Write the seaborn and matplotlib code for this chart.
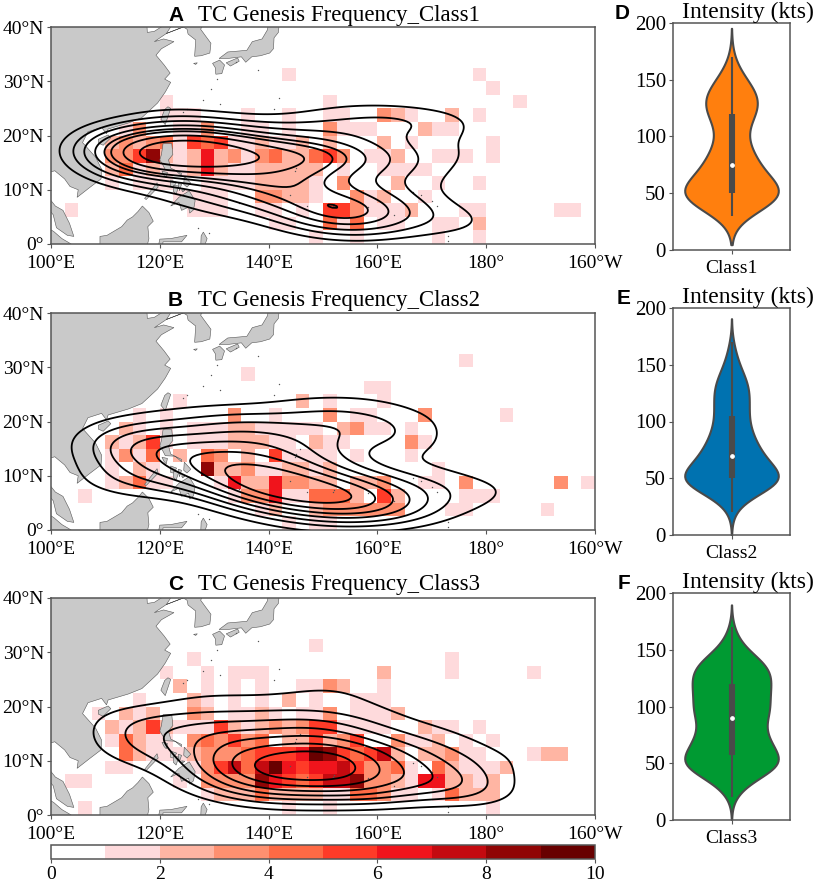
import numpy as np
import matplotlib
matplotlib.use('Agg')
import matplotlib.pyplot as plt
from matplotlib.colors import ListedColormap, BoundaryNorm
from matplotlib.cm import ScalarMappable
from matplotlib.patches import Polygon
import seaborn as sns

sns.set_style('white')
plt.rcParams['font.family'] = ['Liberation Serif', 'DejaVu Serif']
plt.rcParams['text.color'] = 'black'

# genesis counts on a 2.5 deg grid, {row: {column: count}}, row 0 at the equator, column 0 at 100E
class1_rows = {
    12: {17: 1, 31: 1},
    11: {32: 1},
    10: {8: 1, 20: 1, 34: 1},
    9: {8: 1, 9: 1, 10: 1, 14: 1, 17: 1, 20: 1, 21: 1, 24: 3, 25: 2, 26: 1, 29: 2, 31: 1},
    8: {5: 1, 6: 3, 9: 1, 10: 1, 11: 3, 14: 1, 15: 1, 17: 1, 20: 3, 21: 1, 22: 1, 23: 1, 27: 2, 28: 1, 29: 1},
    7: {4: 2, 5: 3, 6: 2, 7: 3, 8: 4, 9: 1, 10: 5, 11: 4, 12: 5, 13: 1, 14: 1, 15: 2, 16: 1, 17: 1, 18: 2, 20: 2, 24: 2, 26: 1, 32: 1},
    6: {4: 3, 5: 3, 6: 5, 7: 8, 8: 2, 9: 1, 10: 2, 11: 6, 12: 2, 13: 3, 14: 1, 15: 3, 16: 4, 17: 2, 18: 2, 19: 4, 20: 5, 21: 3, 23: 1, 24: 1, 25: 2, 28: 1, 29: 1, 30: 1, 32: 1},
    5: {4: 2, 5: 4, 6: 1, 7: 2, 8: 1, 9: 1, 10: 2, 11: 6, 12: 2, 13: 1, 14: 1, 15: 2, 16: 2, 17: 2, 18: 2, 19: 2, 21: 1, 24: 1, 25: 1, 26: 1, 27: 1},
    4: {4: 1, 6: 1, 7: 1, 8: 1, 11: 1, 12: 1, 13: 1, 14: 1, 15: 2, 16: 2, 17: 2, 18: 2, 19: 1, 21: 3, 25: 2, 28: 1, 31: 1},
    3: {9: 1, 10: 1, 11: 1, 12: 1, 15: 3, 16: 3, 17: 2, 18: 2, 19: 1, 22: 3, 23: 1, 24: 2, 27: 1},
    2: {1: 1, 10: 1, 11: 1, 12: 1, 15: 1, 16: 1, 18: 1, 20: 5, 21: 5, 22: 3, 23: 1, 24: 1, 25: 1, 26: 2, 30: 1, 31: 1, 37: 1, 38: 1},
    1: {16: 1, 17: 1, 20: 4, 21: 1, 22: 4, 24: 1, 25: 1, 28: 1, 29: 1, 31: 2},
    0: {19: 1, 22: 1, 28: 1, 31: 1},
}
class2_rows = {
    12: {30: 1},
    11: {14: 1},
    10: {23: 1, 24: 1},
    9: {9: 1, 18: 2, 20: 1, 24: 1},
    8: {6: 1, 8: 1, 13: 3, 16: 1, 20: 3, 22: 1, 23: 1, 27: 3, 33: 1},
    7: {5: 2, 6: 1, 8: 1, 10: 1, 11: 1, 12: 1, 13: 2, 14: 2, 15: 1, 16: 1, 17: 1, 18: 1, 19: 1, 21: 2, 22: 3, 23: 1, 24: 1, 26: 1},
    6: {4: 2, 5: 1, 6: 2, 7: 5, 8: 1, 10: 1, 11: 1, 12: 1, 13: 2, 14: 2, 15: 2, 16: 1, 17: 1, 19: 2, 20: 1, 21: 1, 26: 3, 27: 1},
    5: {4: 1, 5: 3, 6: 1, 7: 4, 9: 2, 11: 4, 12: 3, 14: 2, 16: 5, 17: 1, 18: 1, 19: 1, 20: 1, 22: 1, 26: 1},
    4: {4: 1, 6: 2, 7: 1, 11: 8, 12: 2, 13: 2, 14: 3, 15: 1, 16: 1, 17: 2, 18: 2, 19: 1, 20: 2, 28: 1},
    3: {4: 1, 5: 2, 6: 4, 7: 1, 8: 1, 12: 1, 13: 6, 14: 2, 15: 2, 16: 6, 17: 3, 18: 3, 19: 2, 20: 2, 22: 2, 23: 2, 24: 3, 27: 1, 28: 1, 30: 3, 37: 3, 39: 1},
    2: {2: 1, 13: 1, 14: 3, 15: 3, 16: 6, 17: 1, 18: 1, 19: 4, 20: 4, 21: 4, 22: 2, 24: 5, 25: 2, 30: 1, 31: 1, 32: 1},
    1: {15: 1, 16: 2, 19: 2, 20: 3, 21: 3, 22: 3, 23: 3, 24: 3, 25: 3, 29: 1, 30: 1, 36: 1},
    0: {17: 1, 19: 1, 20: 1},
}
class3_rows = {
    12: {19: 1},
    11: {10: 1, 29: 1},
    10: {8: 1, 11: 1, 13: 1, 14: 1, 15: 1, 24: 2, 29: 1, 35: 1},
    9: {9: 2, 11: 1, 13: 1, 15: 1, 18: 1, 19: 1, 20: 3, 21: 2, 24: 1},
    8: {6: 1, 10: 2, 11: 1, 13: 1, 15: 1, 17: 2, 19: 1, 22: 1, 23: 1, 24: 1},
    7: {3: 1, 5: 2, 6: 1, 7: 2, 10: 3, 11: 2, 13: 1, 14: 1, 15: 2, 16: 1, 18: 1, 19: 1, 20: 3, 22: 1, 23: 1, 24: 1, 25: 2},
    6: {4: 2, 5: 1, 6: 2, 7: 5, 8: 2, 9: 1, 10: 1, 11: 1, 12: 5, 13: 2, 14: 1, 15: 2, 16: 3, 17: 2, 18: 3, 19: 5, 20: 5, 21: 1, 22: 1, 23: 1, 24: 1, 27: 2, 28: 1, 29: 1, 31: 1},
    5: {4: 1, 5: 4, 6: 2, 7: 1, 8: 1, 10: 3, 11: 4, 12: 3, 13: 5, 14: 3, 15: 4, 17: 2, 18: 2, 19: 5, 20: 2, 21: 3, 22: 5, 25: 3, 26: 1, 27: 1, 28: 2, 30: 1, 32: 1},
    4: {5: 4, 6: 2, 7: 1, 8: 1, 9: 1, 10: 2, 11: 3, 12: 3, 13: 3, 14: 4, 15: 5, 16: 5, 17: 5, 18: 6, 19: 9, 20: 8, 21: 5, 22: 4, 23: 5, 24: 7, 25: 2, 27: 2, 28: 2, 29: 3, 30: 1, 31: 1, 35: 1, 36: 2, 37: 2},
    3: {4: 1, 5: 1, 10: 1, 11: 3, 12: 5, 13: 7, 14: 4, 15: 7, 16: 9, 17: 6, 18: 5, 19: 6, 20: 6, 21: 7, 22: 5, 23: 3, 24: 3, 25: 4, 26: 1, 28: 4, 29: 2, 30: 1, 31: 1, 32: 1, 33: 2},
    2: {1: 1, 2: 1, 9: 1, 11: 3, 12: 3, 13: 3, 14: 3, 15: 8, 16: 6, 17: 5, 18: 4, 19: 5, 20: 7, 21: 7, 22: 8, 23: 3, 24: 3, 25: 2, 26: 1, 27: 6, 28: 6, 29: 2, 30: 2, 31: 1, 32: 2},
    1: {11: 1, 12: 2, 13: 2, 14: 2, 15: 4, 16: 2, 17: 2, 18: 2, 19: 2, 20: 1, 21: 1, 22: 4, 23: 4, 24: 3, 25: 1, 26: 1, 28: 1, 29: 4, 30: 2, 31: 2, 32: 2},
    0: {2: 1, 17: 1, 20: 1, 32: 1},
}

# intensity histograms read back from the violins, one count per 5 kt from 20 kt
intensity_bins = list(range(20, 175, 5))
class1_hist = [0, 0, 4, 7, 14, 20, 24, 18, 13, 11, 8, 10, 9, 7, 6, 5, 4, 4, 5, 6, 9, 10, 10, 10, 8, 7, 5, 3, 2, 1, 1]
class2_hist = [1, 2, 4, 8, 14, 22, 26, 20, 15, 14, 13, 11, 10, 9, 8, 7, 7, 6, 7, 7, 7, 7, 7, 7, 5, 4, 3, 2, 2, 1, 1]
class3_hist = [1, 2, 4, 6, 10, 14, 20, 14, 13, 13, 11, 11, 10, 8, 12, 12, 12, 11, 11, 12, 12, 12, 12, 12, 10, 7, 4, 3, 2, 1, 1]
violin_bw = [1.0, 0.9, 0.85]

class_names = ['Class1', 'Class2', 'Class3']
panel_letters = ['A', 'B', 'C']
violin_letters = ['D', 'E', 'F']
violin_colors = ['#ff7f0e', '#0072b0', '#009a32']
level_colors = ['#ffffff', '#fedadc', '#ffb5a3', '#ff9070', '#ff6a45',
                '#ff3b28', '#f0141c', '#c40a10', '#900505', '#680000']
lon_ticks = [100, 120, 140, 160, 180, 200]
lon_labels = ['100°E', '120°E', '140°E', '160°E', '180°', '160°W']
lat_ticks = [0, 10, 20, 30, 40]
lat_labels = ['0°', '10°N', '20°N', '30°N', '40°N']
kde_levels = [9, 8, 8]
kde_bw = [0.92, 1.0, 1.0]

# rough coastlines for the base map, lon/lat
land_polys = [
    [(99, 41), (117.6, 41), (117.7, 39), (119, 39.2), (121.5, 40.8), (122, 40), (121.2, 38.8), (124.3, 40), (124.3, 41), (125, 41),
     (124.3, 40), (121.2, 38.8), (119, 37.3), (120.7, 37.8), (122.6, 37.3), (120.3, 36), (119.3, 34.8), (120.8, 33),
     (121.9, 31.5), (120.9, 30.4), (122, 29.8), (121, 28), (119.6, 26), (118, 24.5), (116.7, 23.3),
     (114.2, 22.3), (110.5, 21.2), (110.2, 20.3), (109.3, 21.5), (106.8, 20.7), (105.8, 18.7), (108.2, 16),
     (109.3, 13.8), (109.2, 12), (107.1, 10.4), (104.8, 8.6), (105, 10), (103.5, 10.6), (102.5, 12),
     (100.7, 13.5), (100, 13.3), (99, 13)],
    [(99, 8.5), (100, 8), (100.8, 7), (102.2, 6.2), (103.4, 3.8), (104.2, 1.4), (103, 1.6), (101, 3), (100.4, 5.4), (99, 7)],
    [(99, 3.2), (100.5, 2.3), (102, 1), (103.7, 0), (103.7, -1), (99, -1)],
    [(109, -1), (109, 1.4), (110.3, 1.6), (113, 3.2), (114, 4.4), (115, 5), (116, 6), (116.8, 7), (118, 5.8),
     (118.8, 4.2), (117.8, 3.2), (118, 1), (117.5, -1)],
    [(119.6, -1), (120, 0.9), (122, 1), (125, 1.6), (124, 0.4), (120.6, 0.4), (120.4, -1)],
    [(127.5, -1), (127.6, 1.5), (128, 2.2), (128.7, 1), (128, -1)],
    [(117.2, 8.4), (119.5, 11.3), (119.7, 10.5), (117.5, 8.2)],
    [(122, 7), (123.5, 8.6), (125.4, 9.8), (126.5, 8), (126.2, 6.3), (125.5, 5.7), (125.3, 6.8), (124, 6.2), (123.5, 7.7)],
    [(120.6, 18.5), (122.2, 18.5), (122.4, 16.5), (121.6, 15.5), (122, 14), (124, 13), (124, 12.6), (122.8, 13.6),
     (121, 13.7), (120.6, 14.5), (120, 15.5), (120.3, 16.5)],
    [(124.5, 12.5), (125.7, 11.2), (125, 10.5), (124.4, 11)],
    [(122, 11.8), (123.1, 11.4), (122.5, 10.5), (122, 10.6)],
    [(122.5, 10.8), (123.5, 10.7), (123, 9.2), (122.5, 9.7)],
    [(123.4, 11.2), (124, 11), (123.6, 9.8)],
    [(124, 10), (124.6, 9.9), (124.2, 9.6)],
    [(120.4, 13.4), (121.4, 13.2), (121.2, 12.2), (120.8, 12.6)],
    [(121.5, 25.3), (122, 25), (121, 22), (120.2, 23), (120.9, 24.8)],
    [(108.7, 19.3), (110.5, 20.1), (111, 19.6), (109.6, 18.2), (108.7, 18.6)],
    [(124.3, 40), (125, 39.6), (125.2, 38.7), (126.6, 37.6), (126.4, 34.6), (127.6, 34.7), (129.2, 35.2),
     (129.4, 37), (128.3, 38.5), (127.5, 39.6), (128.3, 41), (124.3, 41)],
    [(130.9, 34.2), (132.5, 35.4), (136, 35.7), (137, 37.3), (138.8, 37.8), (139.8, 39.5), (140, 41), (142, 41),
     (141.8, 39), (141, 38), (140.9, 36), (140.2, 35.2), (138.5, 34.7), (136.9, 34.5), (135.8, 33.5), (135, 34.5), (132.5, 34.2)],
    [(129.7, 33.3), (131, 33.9), (131.9, 33), (131.4, 31.4), (130.3, 31.3), (130.2, 32.5)],
    [(132.2, 33.4), (134.3, 34.3), (134.6, 33.7), (133, 32.8)],
    [(126.2, 33.3), (126.9, 33.4), (126.6, 33.1)],
]
island_lon = [145.7, 134.5, 158.2, 163, 171, 172.9, 168, 166.5, 170, 173, 145, 144.8, 141, 142, 131, 128, 129.5, 130.5,
              124.2, 125, 127, 129, 138, 134, 144, 147, 152, 151.8]
island_lat = [15, 7.5, 6.9, 5.3, 7, 1.5, 9, 9.5, 8, 0.5, 14, 13.4, 24.8, 27, 25.8, 26.5, 28.5, 30.5,
              24.4, 24.8, 3, 2, 32, 33.6, 9, 7, 7.3, 7]

cmap = ListedColormap(level_colors)
norm = BoundaryNorm(np.arange(0, 11), cmap.N)
lon_edges = np.arange(100, 200.1, 2.5)
lat_edges = np.arange(0, 40.1, 2.5)


def to_grid(rows):
    grid = np.zeros((16, 40))
    for r, cells in rows.items():
        for c, val in cells.items():
            grid[r, c] = val
    return grid


def draw_map(ax, grid, levels, bw):
    ax.pcolormesh(lon_edges, lat_edges, np.ma.masked_equal(grid, 0) + 0.5, cmap=cmap, norm=norm, zorder=1)
    for poly in land_polys:
        ax.add_patch(Polygon(poly, closed=True, fc='#c9c9c9', ec='#555555', lw=0.4, zorder=2))
    ax.scatter(island_lon, island_lat, s=1, c='#555555', lw=0, zorder=2)

    lat_idx, lon_idx = np.nonzero(grid)
    sns.kdeplot(x=lon_edges[lon_idx] + 1.25, y=lat_edges[lat_idx] + 1.25, weights=grid[lat_idx, lon_idx],
                levels=levels, thresh=0.15, bw_adjust=bw, color='black', linewidths=1.3, ax=ax, zorder=3)

    ax.set_xlim(100, 200)
    ax.set_ylim(0, 40)
    ax.set_xticks(lon_ticks)
    ax.set_xticklabels(lon_labels)
    ax.set_yticks(lat_ticks)
    ax.set_yticklabels(lat_labels)
    ax.set_xlabel('')
    ax.set_ylabel('')
    ax.tick_params(left=True, bottom=True, length=3, width=0.8, color='#555555', labelcolor='black', labelsize=14, pad=2)
    ax.tick_params(axis='x', pad=5)
    for spine in ax.spines.values():
        spine.set_color('#555555')
        spine.set_linewidth(1.1)


W, H = 816, 883
fig = plt.figure(figsize=(W / 100, H / 100), dpi=100)


def px_axes(x0, y0, x1, y1):
    return fig.add_axes([x0 / W, 1 - y1 / H, (x1 - x0) / W, (y1 - y0) / H])


map_tops = [27, 313, 598]
title_base = [21, 306, 590]
violin_tops = [23, 308, 593]
violin_base = [18, 303, 588]
grids = [to_grid(class1_rows), to_grid(class2_rows), to_grid(class3_rows)]
hists = [class1_hist, class2_hist, class3_hist]

for i in range(3):
    ax = px_axes(51, map_tops[i], 595, map_tops[i] + 217)
    draw_map(ax, grids[i], kde_levels[i], kde_bw[i])
    fig.text(338.5 / W, 1 - title_base[i] / H, 'TC Genesis Frequency_' + class_names[i], fontsize=16.5,
             ha='center', va='baseline')
    fig.text(168 / W, 1 - title_base[i] / H, panel_letters[i], fontsize=15, fontweight='bold',
             family='Liberation Sans', ha='left', va='baseline')

    vax = px_axes(673, violin_tops[i], 790, violin_tops[i] + 227)
    values = np.repeat(intensity_bins, hists[i])
    sns.violinplot(y=values, color=violin_colors[i], saturation=1, width=0.8, linewidth=1.5, linecolor='#4a4a4a',
                   bw_adjust=violin_bw[i], inner='box',
                   inner_kws={'box_width': 4.4, 'whis_width': 1.5, 'color': '#4a4a4a', 'marker': 'o',
                              'markersize': 2.5, 'solid_capstyle': 'butt'}, ax=vax)
    vax.set_ylim(0, 200)
    vax.set_yticks([0, 50, 100, 150, 200])
    vax.set_xticks([0])
    vax.set_xticklabels([class_names[i]])
    vax.set_ylabel('')
    vax.set_xlim(-0.5, 0.5)
    vax.tick_params(left=True, bottom=True, length=3, width=0.8, color='#555555', labelcolor='black', labelsize=15, pad=2)
    vax.tick_params(axis='x', labelsize=14, pad=4)
    for spine in vax.spines.values():
        spine.set_color('#555555')
        spine.set_linewidth(1.1)
    fig.text(748 / W, 1 - violin_base[i] / H, 'Intensity (kts)', fontsize=17, ha='center', va='baseline')
    fig.text(630 / W, 1 - (violin_base[i] + 1) / H, violin_letters[i], fontsize=15, fontweight='bold',
             family='Liberation Sans', ha='right', va='baseline')

cax = px_axes(51, 845, 595, 859)
cbar = fig.colorbar(ScalarMappable(norm=norm, cmap=cmap), cax=cax, orientation='horizontal', ticks=[0, 2, 4, 6, 8, 10])
cbar.ax.minorticks_off()
cbar.ax.tick_params(length=3, width=0.8, color='#555555', labelcolor='black', labelsize=14, pad=2, bottom=True)
cbar.outline.set_edgecolor('#555555')
cbar.outline.set_linewidth(1.1)

fig.savefig('out.png', dpi=100)
